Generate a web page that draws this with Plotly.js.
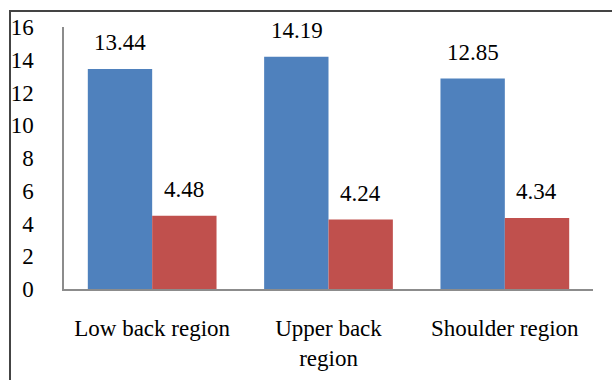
<!DOCTYPE html>
<html>
<head>
<meta charset="utf-8">
<script src="https://cdn.plot.ly/plotly-3.0.1.min.js"></script>
<style>
  html, body { margin: 0; padding: 0; background: #fff; }
  #wrap { position: relative; width: 612px; height: 380px; overflow: hidden; }
  #frame { position: absolute; left: 9px; top: 10px; width: 700px; height: 500px; border: 2px solid #444; box-sizing: border-box; }
  #chart { position: absolute; left: 0; top: 0; width: 612px; height: 380px; }
  #chart text { font-family: 'Liberation Serif', 'Times New Roman', serif !important; }
</style>
</head>
<body>
<div id="wrap">
  <div id="frame"></div>
  <div id="chart"></div>
</div>
<script>
const categories = ["Low back region", "Upper back<br>region", "Shoulder region"];
const series1 = [13.44, 14.19, 12.85];
const series2 = [4.48, 4.24, 4.34];
const yTicks = [0, 2, 4, 6, 8, 10, 12, 14, 16];

function mkFont() { return { family: "Liberation Serif", size: 23, color: "#000" }; }

function draw() {
  const traces = [
    { type: "bar", x: categories, y: series1, marker: { color: "#4F81BD" }, hoverinfo: "none" },
    { type: "bar", x: categories, y: series2, marker: { color: "#C0504D" }, hoverinfo: "none" }
  ];

  const annotations = [];
  [series1, series2].forEach((s, k) => {
    s.forEach((v, i) => {
      annotations.push({
        x: i, xref: "x", y: v, yref: "y",
        xshift: (k === 0 ? -32 : 32), yshift: 26,
        text: v.toFixed(2), showarrow: false, font: mkFont()
      });
    });
  });

  const layout = {
    width: 612, height: 380,
    margin: { l: 64, r: 19, t: 27, b: 91 },
    paper_bgcolor: "rgba(0,0,0,0)", plot_bgcolor: "rgba(0,0,0,0)",
    showlegend: false,
    barmode: "group", bargap: 0.27, bargroupgap: 0,
    xaxis: {
      type: "category", showgrid: false, zeroline: false,
      showline: true, linecolor: "#8c8c8c", linewidth: 1.5,
      ticks: "outside", ticklen: 18, tickcolor: "rgba(0,0,0,0)",
      tickfont: mkFont()
    },
    yaxis: {
      range: [0, 16], tickvals: yTicks, showgrid: false, zeroline: false,
      showline: true, linecolor: "#8c8c8c", linewidth: 1.5,
      ticks: "outside", ticklen: 24, tickcolor: "rgba(0,0,0,0)",
      tickfont: mkFont()
    },
    annotations: annotations
  };

  Plotly.newPlot("chart", traces, layout, { displayModeBar: false });
}

if (document.fonts && document.fonts.load) {
  document.fonts.load("23px 'Liberation Serif'").then(draw, draw);
} else {
  draw();
}
</script>
</body>
</html>
